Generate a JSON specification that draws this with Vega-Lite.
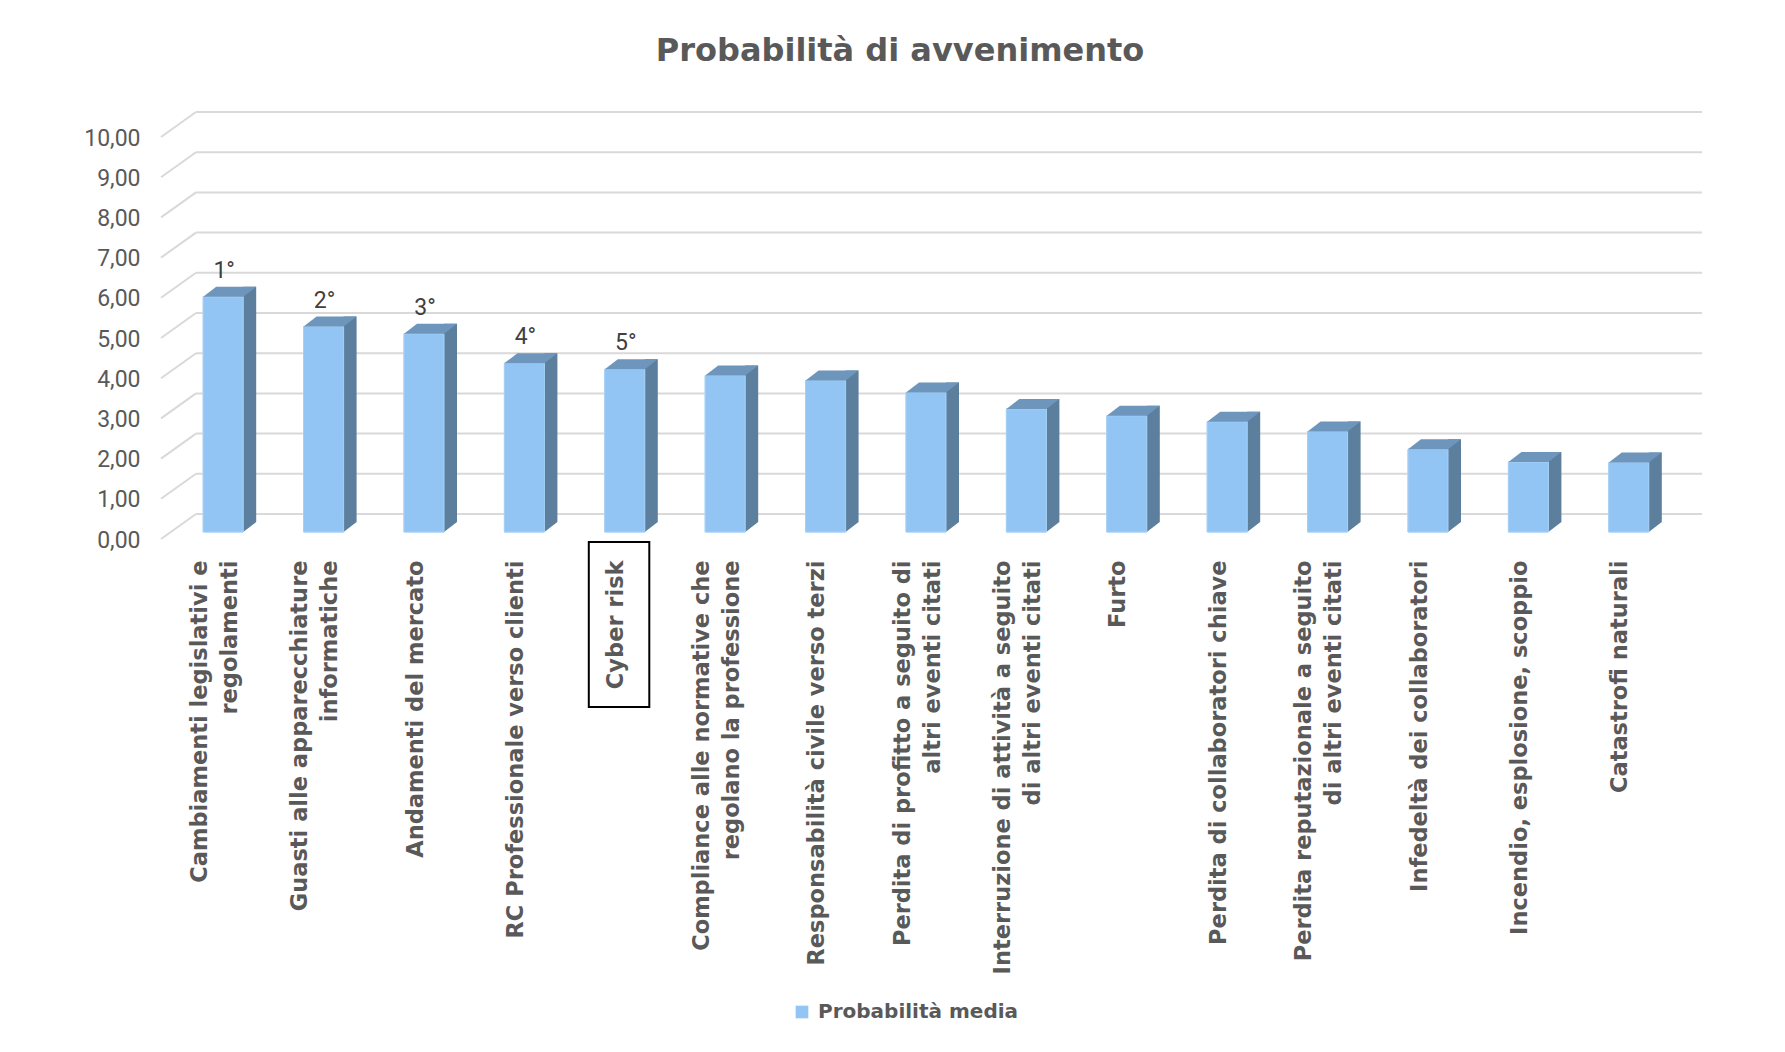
{
  "$schema": "https://vega.github.io/schema/vega-lite/v6.json",
  "width": 1506,
  "height": 402,
  "autosize": "none",
  "padding": {"left": 173, "top": 130, "right": 106, "bottom": 520},
  "background": "white",
  "config": {"view": {"stroke": null}, "font": "DejaVu Sans"},
  "title": {
    "text": "Probabilità di avvenimento",
    "font": "DejaVu Sans",
    "fontSize": 32,
    "fontWeight": "bold",
    "color": "#595959",
    "anchor": "middle",
    "frame": "group",
    "baseline": "alphabetic",
    "offset": 18,
    "dx": -26
  },
  "datasets": {
    "risks": [
      {"cat": "Cambiamenti legislativi e|regolamenti", "value": 5.85, "rank": "1°"},
      {"cat": "Guasti alle apparecchiature|informatiche", "value": 5.11, "rank": "2°"},
      {"cat": "Andamenti del mercato", "value": 4.93, "rank": "3°"},
      {"cat": "RC Professionale verso clienti", "value": 4.20, "rank": "4°"},
      {"cat": "Cyber risk", "value": 4.05, "rank": "5°"},
      {"cat": "Compliance alle normative che|regolano la professione", "value": 3.89, "rank": null},
      {"cat": "Responsabilità civile verso terzi", "value": 3.77, "rank": null},
      {"cat": "Perdita di profitto a seguito di|altri eventi citati", "value": 3.47, "rank": null},
      {"cat": "Interruzione di attività a seguito|di altri eventi citati", "value": 3.06, "rank": null},
      {"cat": "Furto", "value": 2.89, "rank": null},
      {"cat": "Perdita di collaboratori chiave", "value": 2.74, "rank": null},
      {"cat": "Perdita reputazionale a seguito|di altri eventi citati", "value": 2.50, "rank": null},
      {"cat": "Infedeltà dei collaboratori", "value": 2.06, "rank": null},
      {"cat": "Incendio, esplosione, scoppio", "value": 1.74, "rank": null},
      {"cat": "Catastrofi naturali", "value": 1.73, "rank": null}
    ],
    "ticks": [
      {"v": 0}, {"v": 1}, {"v": 2}, {"v": 3}, {"v": 4}, {"v": 5},
      {"v": 6}, {"v": 7}, {"v": 8}, {"v": 9}, {"v": 10}
    ]
  },
  "layer": [
    {
      "data": {"name": "risks"},
      "mark": {"type": "bar", "width": 40, "stroke": "#A6D0F6", "strokeWidth": 1},
      "encoding": {
        "x": {
          "field": "cat",
          "type": "nominal",
          "sort": null,
          "scale": {
            "domain": [
              "Cambiamenti legislativi e|regolamenti",
              "Guasti alle apparecchiature|informatiche",
              "Andamenti del mercato",
              "RC Professionale verso clienti",
              "Cyber risk",
              "Compliance alle normative che|regolano la professione",
              "Responsabilità civile verso terzi",
              "Perdita di profitto a seguito di|altri eventi citati",
              "Interruzione di attività a seguito|di altri eventi citati",
              "Furto",
              "Perdita di collaboratori chiave",
              "Perdita reputazionale a seguito|di altri eventi citati",
              "Infedeltà dei collaboratori",
              "Incendio, esplosione, scoppio",
              "Catastrofi naturali"
            ],
            "paddingInner": 0,
            "paddingOuter": 0
          },
          "axis": {
            "title": null,
            "domain": false,
            "ticks": false,
            "grid": false,
            "labelAngle": -90,
            "labelAlign": "right",
            "labelBaseline": "middle",
            "labelExpr": "split(datum.label, '|')",
            "labelFont": "DejaVu Sans",
            "labelFontSize": 22.5,
            "labelFontWeight": "bold",
            "labelColor": "#595959",
            "labelLineHeight": 30,
            "labelPadding": 28,
            "labelOffset": {"condition": {"test": "indexof(datum.label, '|') >= 0", "value": -23.5}, "value": -8.5},
            "labelLimit": 700,
            "labelOverlap": false,
            "labelBound": false
          }
        },
        "y": {
          "field": "value",
          "type": "quantitative",
          "scale": {"domain": [0, 10], "nice": false},
          "axis": {
            "title": null,
            "domain": false,
            "ticks": false,
            "grid": false,
            "values": [0, 1, 2, 3, 4, 5, 6, 7, 8, 9, 10],
            "labelExpr": "replace(format(datum.value, '.2f'), '.', ',')",
            "labelFont": "Roboto",
            "labelFontSize": 23,
            "labelColor": "#595959",
            "labelPadding": 33,
            "labelOffset": 8
          }
        },
        "color": {
          "datum": "Probabilità media",
          "type": "nominal",
          "scale": {"range": ["#92C5F3"]},
          "legend": {
            "title": null,
            "orient": "none",
            "legendX": 619,
            "legendY": 872,
            "padding": 0,
            "symbolType": "square",
            "symbolSize": 160,
            "symbolStrokeWidth": 0,
            "labelFont": "DejaVu Sans",
            "labelFontSize": 20,
            "labelFontWeight": "bold",
            "labelColor": "#595959",
            "labelOffset": 6,
            "labelLimit": 400
          }
        }
      }
    },
    {
      "data": {"name": "ticks"},
      "mark": {"type": "rule", "color": "#D9D9D9", "strokeWidth": 2, "xOffset": 23, "x2Offset": 23, "yOffset": -18, "y2Offset": -18},
      "encoding": {
        "x": {"datum": "Cambiamenti legislativi e|regolamenti", "type": "nominal", "bandPosition": 0, "axis": {"title": null}},
        "x2": {"datum": "Catastrofi naturali", "bandPosition": 1},
        "y": {"field": "v", "type": "quantitative", "axis": {"title": null}},
        "y2": {"field": "v"}
      }
    },
    {
      "data": {"name": "ticks"},
      "mark": {"type": "rule", "color": "#D9D9D9", "strokeWidth": 2, "xOffset": -12, "x2Offset": 23, "yOffset": 7, "y2Offset": -18},
      "encoding": {
        "x": {"datum": "Cambiamenti legislativi e|regolamenti", "type": "nominal", "bandPosition": 0, "axis": {"title": null}},
        "x2": {"datum": "Cambiamenti legislativi e|regolamenti", "bandPosition": 0},
        "y": {"field": "v", "type": "quantitative", "axis": {"title": null}},
        "y2": {"field": "v"}
      }
    },
    {
      "data": {"name": "risks"},
      "mark": {"type": "bar", "width": 13, "xOffset": 26.5, "x2Offset": 26.5, "yOffset": -10, "y2Offset": -10, "color": "#5C7F9E"},
      "encoding": {
        "x": {"field": "cat", "type": "nominal", "sort": null, "axis": {"title": null}},
        "y": {"field": "value", "type": "quantitative", "axis": {"title": null}}
      }
    },
    {
      "data": {"name": "risks"},
      "mark": {"type": "point", "shape": "M20,-10L20,0L33,-10Z", "size": 4, "filled": true, "opacity": 1, "strokeWidth": 0, "color": "#5C7F9E"},
      "encoding": {
        "x": {"field": "cat", "type": "nominal", "sort": null, "axis": {"title": null}},
        "y": {"datum": 0, "type": "quantitative", "axis": {"title": null}}
      }
    },
    {
      "data": {"name": "risks"},
      "mark": {"type": "bar", "width": 40, "stroke": "#A6D0F6", "strokeWidth": 1, "color": "#92C5F3"},
      "encoding": {
        "x": {"field": "cat", "type": "nominal", "sort": null, "axis": {"title": null}},
        "y": {"field": "value", "type": "quantitative", "axis": {"title": null}}
      }
    },
    {
      "data": {"name": "risks"},
      "mark": {"type": "point", "shape": "M-20,0L20,0L33,-10L-7,-10Z", "size": 4, "filled": true, "opacity": 1, "strokeWidth": 0, "color": "#6E95BC"},
      "encoding": {
        "x": {"field": "cat", "type": "nominal", "sort": null, "axis": {"title": null}},
        "y": {"field": "value", "type": "quantitative", "axis": {"title": null}}
      }
    },
    {
      "data": {"name": "risks"},
      "transform": [{"filter": "datum.rank != null"}],
      "mark": {"type": "text", "font": "Roboto", "fontSize": 23, "color": "#404040", "baseline": "middle", "dy": -26, "dx": 1},
      "encoding": {
        "x": {"field": "cat", "type": "nominal", "sort": null, "axis": {"title": null}},
        "y": {"field": "value", "type": "quantitative", "axis": {"title": null}},
        "text": {"field": "rank"}
      }
    },
    {
      "data": {"name": "risks"},
      "transform": [{"filter": "datum.cat == 'Cyber risk'"}],
      "mark": {"type": "point", "shape": "M-36,10L24.5,10L24.5,175L-36,175Z", "size": 4, "filled": false, "opacity": 1, "stroke": "#000000", "strokeWidth": 2},
      "encoding": {
        "x": {"field": "cat", "type": "nominal", "sort": null, "axis": {"title": null}},
        "y": {"datum": 0, "type": "quantitative", "axis": {"title": null}}
      }
    }
  ]
}
